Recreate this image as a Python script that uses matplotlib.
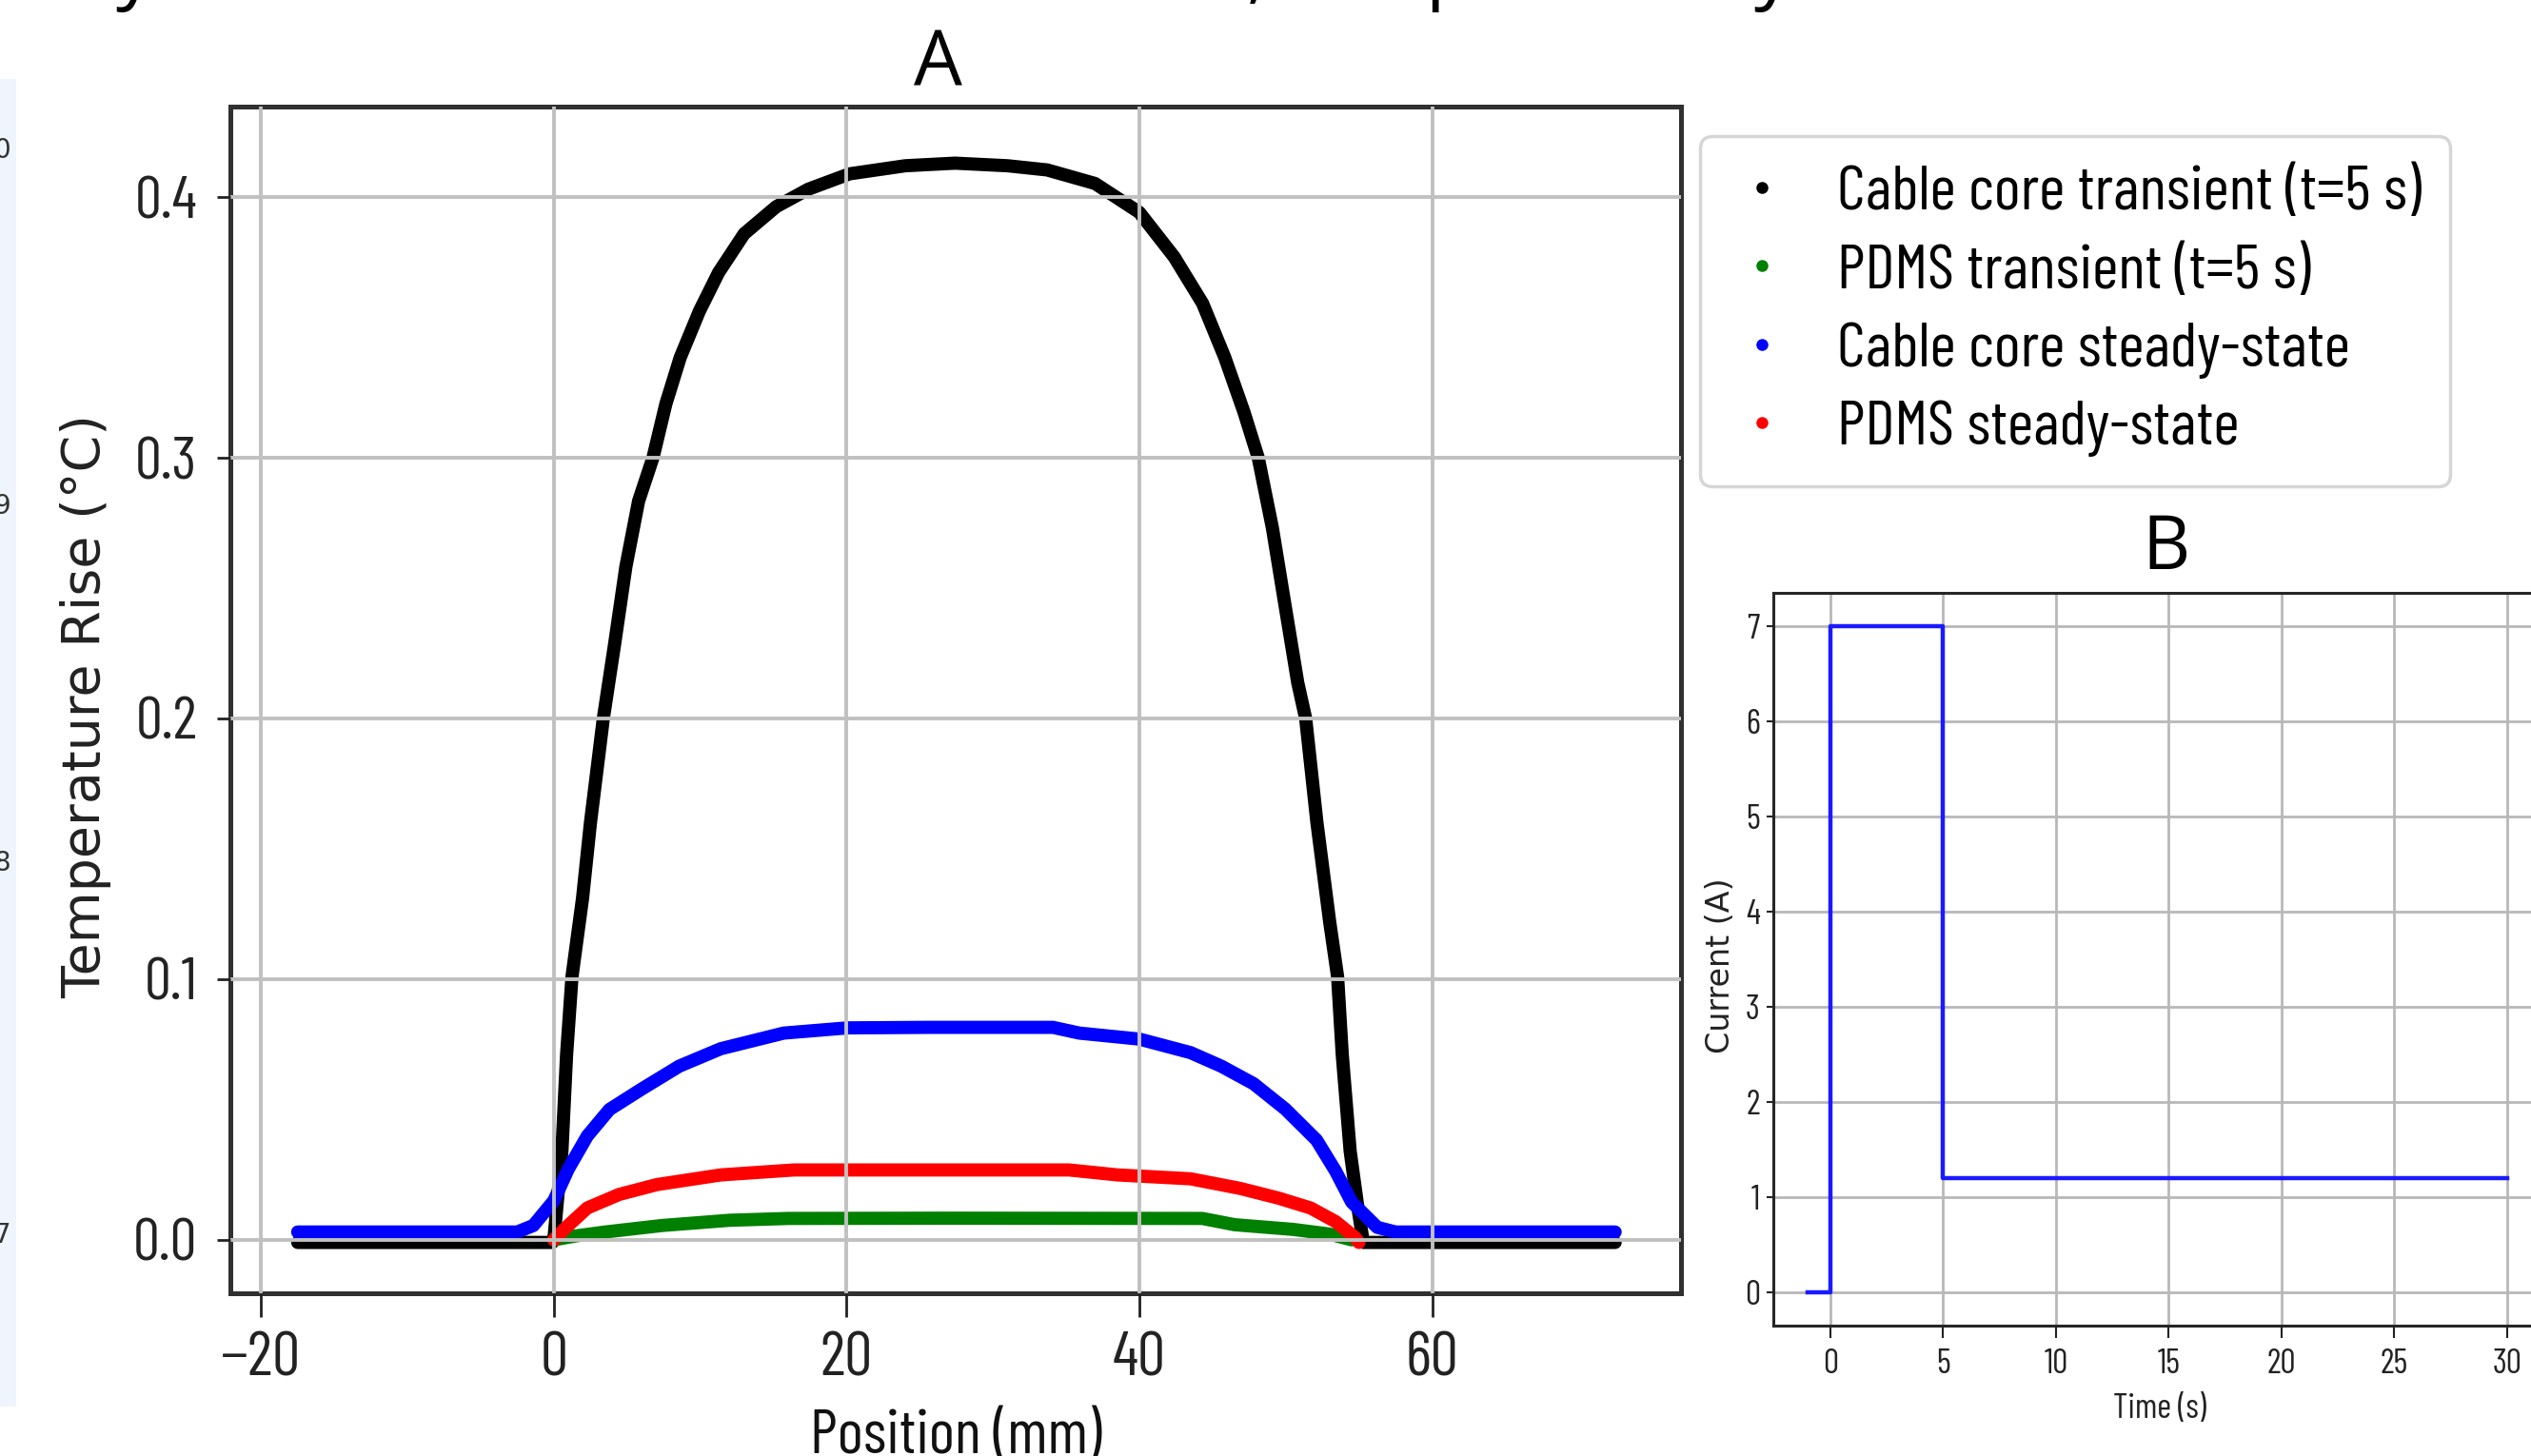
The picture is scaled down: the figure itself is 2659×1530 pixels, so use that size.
import matplotlib
matplotlib.use('Agg')
import matplotlib.pyplot as plt
from matplotlib import font_manager
from matplotlib.lines import Line2D
from matplotlib.patches import Rectangle

# panel A: temperature rise along the cable (mm, degC)
core_transient_x = [-17.5, -0.1, 0.0, 0.55, 0.87, 1.24, 1.96, 2.5, 3.38, 4.15, 4.92, 5.79, 6.77,
                    7.65, 8.63, 9.94, 11.25, 13.0, 15.19, 17.38, 20.2, 24.0, 27.4, 31.0, 33.7,
                    36.97, 40.0, 42.38, 44.32, 45.84, 47.14, 48.12, 49.09, 49.95, 50.82, 51.36,
                    52.13, 53.0, 53.54, 53.86, 54.4, 54.95, 55.3, 72.5]
core_transient_y = [-0.001, -0.001, 0.0, 0.034, 0.071, 0.101, 0.131, 0.160, 0.200, 0.2285, 0.2582,
                    0.2834, 0.300, 0.3206, 0.3384, 0.3562, 0.371, 0.3859, 0.3963, 0.403, 0.4089,
                    0.412, 0.413, 0.412, 0.4104, 0.4052, 0.3941, 0.377, 0.3592, 0.3384, 0.3176,
                    0.300, 0.273, 0.2434, 0.2137, 0.200, 0.160, 0.122, 0.101, 0.071, 0.034, 0.0115,
                    -0.001, -0.001]

pdms_transient_x = [0.0, 1.5, 3.5, 7.4, 12.0, 16.0, 27.0, 44.3, 46.5, 50.5, 53.0, 54.5]
pdms_transient_y = [0.0, 0.0015, 0.003, 0.0055, 0.0075, 0.0082, 0.0083, 0.0082, 0.0058, 0.004,
                    0.0022, 0.0]

core_steady_x = [-17.5, -2.5, -1.4, 0.0, 0.98, 2.28, 3.8, 5.96, 8.56, 11.4, 15.7, 20.05, 25.5,
                 30.5, 34.1, 35.9, 40.0, 43.5, 45.6, 47.8, 49.96, 52.1, 53.4, 54.5, 56.25, 57.5,
                 72.5]
core_steady_y = [0.003, 0.003, 0.0055, 0.015, 0.0271, 0.0398, 0.050, 0.0577, 0.0666, 0.0733,
                 0.0793, 0.0813, 0.0815, 0.0815, 0.0815, 0.0793, 0.077, 0.0718, 0.0666, 0.0599,
                 0.0502, 0.0383, 0.0264, 0.0145, 0.0048, 0.003, 0.003]

pdms_steady_x = [0.0, 0.98, 2.28, 4.45, 7.05, 11.4, 16.4, 22.0, 28.0, 35.2, 38.5, 43.5, 46.9,
                 49.5, 51.7, 53.4, 54.7, 55.0]
pdms_steady_y = [0.0, 0.0055, 0.0122, 0.0174, 0.0212, 0.0249, 0.0268, 0.0268, 0.0268, 0.0268,
                 0.0249, 0.0234, 0.0197, 0.016, 0.0122, 0.007, 0.0011, -0.001]

series_labels = ['Cable core transient (t=5 s)', 'PDMS transient (t=5 s)',
                 'Cable core steady-state', 'PDMS steady-state']
series_colors = ['#000000', '#008000', '#0000ff', '#ff0000']

# panel B: current pulse
time_s = [-1.0, 0.0, 0.0, 5.0, 5.0, 30.0]
current_a = [0.0, 0.0, 7.0, 7.0, 1.2, 1.2]

# cut-off tick labels of a neighbouring plot on the far left
strip_labels = ['0', '9', '8', '7']
strip_label_y = [158, 532, 907, 1298]


def main():
    installed = {f.name for f in font_manager.fontManager.ttflist}
    narrow = 'DejaVu Sans'
    for name in ['Barlow Condensed', 'Roboto Condensed', 'Archivo Narrow']:
        if name in installed:
            narrow = name
            break

    W, H = 2659, 1530
    fig = plt.figure(figsize=(W / 100, H / 100), dpi=100)
    fig.patch.set_facecolor('white')

    # left strip
    fig.patches.append(Rectangle((0, 1 - 1478 / H), 17 / W, (1478 - 83) / H,
                                 transform=fig.transFigure, facecolor='#eef5fd',
                                 edgecolor='none', zorder=0))
    for lab, yy in zip(strip_labels, strip_label_y):
        fig.text(11 / W, 1 - yy / H, lab, ha='right', va='center', fontsize=20, color='#333333')

    # descenders of the text line above, cut by the image edge
    for ch, xx in zip(['y', ',', 'p', 'y'], [122, 1310, 1497, 1843]):
        fig.text(xx / W, 1 + 6 / H, ch, ha='left', va='baseline', fontsize=58,
                 family='Open Sans', color='black')

    # ---------- panel A ----------
    ax = fig.add_axes([242 / W, 1 - 1359 / H, 1524 / W, 1247 / H])
    xs = [core_transient_x, pdms_transient_x, core_steady_x, pdms_steady_x]
    ys = [core_transient_y, pdms_transient_y, core_steady_y, pdms_steady_y]
    for x, y, c in zip(xs, ys, series_colors):
        ax.plot(x, y, color=c, lw=10, solid_capstyle='round', solid_joinstyle='round')

    ax.set_xlim(-22.1, 77.0)
    ax.set_ylim(-0.0205, 0.4347)
    ax.set_xticks([-20, 0, 20, 40, 60])
    ax.set_xticklabels(['\u221220', '0', '20', '40', '60'])
    ax.set_yticks([0.0, 0.1, 0.2, 0.3, 0.4])
    ax.grid(True, color='#c0c0c0', lw=2.8)
    ax.set_axisbelow(False)
    for s in ax.spines.values():
        s.set_linewidth(3.6)
        s.set_color('#303030')
    ax.tick_params(axis='x', length=18, width=2, pad=11, labelsize=47, colors='#222222')
    ax.tick_params(axis='y', length=10, width=2, pad=15, labelsize=45, colors='#222222')
    for t in ax.get_xticklabels() + ax.get_yticklabels():
        t.set_family(narrow)

    ax.set_xlabel('Position (mm)', fontsize=47, family=narrow, color='#111111')
    ax.xaxis.set_label_coords(0.5, -0.098)
    ax.set_ylabel('Temperature Rise (\u00b0C)', fontsize=40, family='DejaVu Sans', color='#222222')
    ax.yaxis.set_label_coords(-0.082, 0.4948)

    fig.text(985 / W, 1 - 68 / H, 'A', ha='center', va='center', fontsize=58, family='Open Sans')

    handles = [Line2D([], [], ls='none', marker='.', markersize=16, color=c) for c in series_colors]
    leg = fig.legend(handles, series_labels, loc='upper left',
                     bbox_to_anchor=(1786 / W, 1 - 143 / H), bbox_transform=fig.transFigure,
                     borderaxespad=0, borderpad=0.46, labelspacing=0.34, handlelength=1.03,
                     handletextpad=0.67, prop={'family': narrow, 'size': 48}, fancybox=True,
                     framealpha=1.0)
    leg.get_frame().set_edgecolor('#d6d6d6')
    leg.get_frame().set_linewidth(2.5)

    # ---------- panel B ----------
    bx = fig.add_axes([1862.6 / W, 1 - 1393 / H, 808 / W, 770 / H])
    bx.plot(time_s, current_a, color='#1a1aff', lw=3.2)
    bx.set_xlim(-2.55, 31.55)
    bx.set_ylim(-0.35, 7.35)
    bx.set_xticks([0, 5, 10, 15, 20, 25, 30])
    bx.set_yticks(range(8))
    bx.grid(True, color='#b8b8b8', lw=2.0)
    for s in bx.spines.values():
        s.set_linewidth(2.2)
        s.set_color('#262626')
    bx.tick_params(axis='x', length=9, width=1.5, pad=8, labelsize=26, colors='#222222')
    bx.tick_params(axis='y', length=5, width=1.5, pad=5, labelsize=26, colors='#222222')
    for t in bx.get_xticklabels() + bx.get_yticklabels():
        t.set_family(narrow)
    bx.set_xlabel('Time (s)', fontsize=26, family=narrow, color='#222222')
    bx.xaxis.set_label_coords(0.503, -0.092)
    bx.set_ylabel('Current (A)', fontsize=24, family='DejaVu Sans', color='#222222')
    bx.yaxis.set_label_coords(-0.048, 0.4916)

    fig.text(2276 / W, 1 - 577 / H, 'B', ha='center', va='center', fontsize=56, family='Open Sans')

    fig.savefig('out.png', dpi=100)


if __name__ == '__main__':
    main()
